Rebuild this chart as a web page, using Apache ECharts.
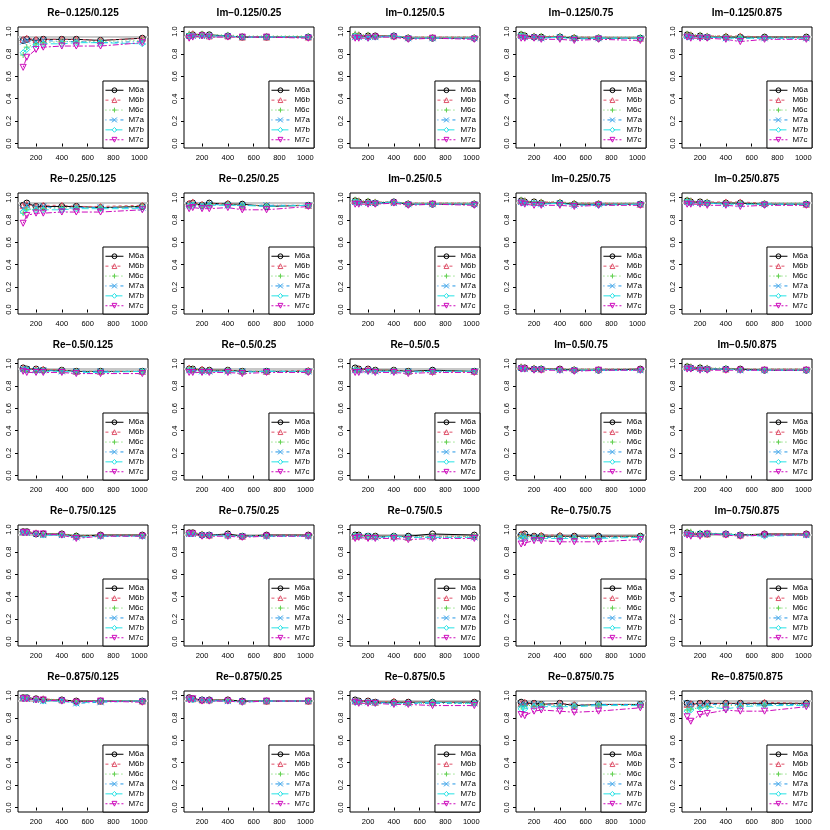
<!DOCTYPE html>
<html>
<head>
<meta charset="utf-8">
<script src="https://cdn.jsdelivr.net/npm/echarts@6/dist/echarts.min.js"></script>
<style>html,body{margin:0;padding:0;background:#fff}#c{width:830px;height:830px}</style>
</head>
<body>
<div id="c"></div>
<script>
const xVals = [100,128,200,256,400,512,700,1024];
const xTicks = [200,400,600,800,1000];
const yTicks = [0,0.2,0.4,0.6,0.8,1.0];
const refLevel = 0.95;
const seriesNames = ['M6a','M6b','M6c','M7a','M7b','M7c'];
const panelTitles = [
 'Re−0.125/0.125','Im−0.125/0.25','Im−0.125/0.5','Im−0.125/0.75','Im−0.125/0.875',
 'Re−0.25/0.125','Re−0.25/0.25','Im−0.25/0.5','Im−0.25/0.75','Im−0.25/0.875',
 'Re−0.5/0.125','Re−0.5/0.25','Re−0.5/0.5','Im−0.5/0.75','Im−0.5/0.875',
 'Re−0.75/0.125','Re−0.75/0.25','Re−0.75/0.5','Re−0.75/0.75','Im−0.75/0.875',
 'Re−0.875/0.125','Re−0.875/0.25','Re−0.875/0.5','Re−0.875/0.75','Re−0.875/0.875'
];
const m6a = [
 [.92,.93,.92,.93,.93,.93,.92,.94],[.96,.97,.97,.97,.96,.95,.95,.95],[.96,.96,.96,.96,.96,.94,.94,.94],[.97,.96,.95,.95,.95,.94,.94,.94],[.97,.96,.96,.95,.95,.95,.95,.95],
 [.93,.95,.92,.92,.92,.92,.91,.92],[.94,.95,.93,.95,.94,.94,.92,.93],[.97,.96,.96,.95,.96,.94,.94,.94],[.97,.96,.96,.95,.95,.94,.94,.94],[.97,.96,.96,.95,.95,.95,.94,.94],
 [.96,.95,.95,.94,.94,.93,.93,.93],[.95,.95,.94,.94,.94,.93,.93,.93],[.96,.95,.95,.94,.94,.93,.94,.93],[.96,.96,.95,.95,.95,.94,.94,.95],[.97,.96,.96,.95,.95,.95,.94,.94],
 [.98,.98,.96,.96,.96,.94,.95,.95],[.97,.97,.95,.95,.96,.94,.95,.95],[.95,.95,.94,.94,.94,.94,.96,.95],[.95,.96,.94,.94,.94,.94,.94,.94],[.97,.96,.96,.96,.96,.95,.96,.96],
 [.98,.98,.97,.96,.96,.95,.95,.95],[.98,.97,.96,.96,.96,.95,.95,.95],[.96,.95,.95,.94,.94,.94,.94,.94],[.94,.93,.93,.92,.93,.91,.92,.92],[.93,.92,.93,.93,.93,.93,.93,.93]
];
const m6b = [
 [.93,.94,.93,.93,.93,.93,.92,.94],[.97,.98,.97,.96,.96,.95,.95,.95],[.97,.97,.96,.96,.96,.95,.95,.95],[.97,.96,.96,.95,.96,.95,.95,.94],[.97,.97,.96,.96,.96,.96,.95,.95],
 [.93,.94,.92,.93,.93,.92,.92,.93],[.95,.96,.94,.94,.95,.93,.93,.93],[.97,.97,.96,.96,.96,.95,.95,.95],[.97,.97,.96,.96,.96,.95,.95,.94],[.97,.97,.96,.96,.96,.96,.95,.94],
 [.96,.95,.95,.95,.94,.93,.93,.93],[.96,.95,.95,.94,.94,.93,.93,.94],[.95,.95,.95,.94,.94,.93,.93,.93],[.97,.96,.96,.95,.95,.95,.95,.95],[.97,.97,.96,.96,.95,.95,.95,.95],
 [.98,.98,.97,.96,.96,.94,.95,.95],[.97,.97,.96,.95,.95,.94,.95,.95],[.94,.95,.94,.94,.94,.93,.94,.94],[.96,.95,.94,.95,.95,.94,.94,.94],[.97,.97,.96,.96,.96,.95,.96,.96],
 [.98,.98,.97,.97,.96,.95,.95,.95],[.98,.97,.96,.96,.96,.95,.95,.95],[.95,.95,.95,.94,.95,.94,.94,.94],[.93,.94,.93,.92,.93,.92,.92,.92],[.92,.93,.93,.93,.93,.93,.94,.93]
];
const m6c = [
 [.79,.86,.89,.90,.91,.91,.91,.92],[.98,.97,.98,.97,.97,.96,.96,.96],[.98,.97,.97,.96,.96,.95,.95,.95],[.98,.97,.96,.96,.96,.95,.95,.95],[.98,.97,.97,.96,.96,.95,.95,.95],
 [.86,.89,.90,.90,.91,.91,.91,.92],[.93,.94,.93,.94,.94,.93,.93,.93],[.98,.97,.97,.96,.96,.95,.95,.95],[.98,.97,.96,.96,.96,.95,.95,.95],[.98,.97,.96,.96,.95,.95,.95,.95],
 [.95,.95,.94,.94,.94,.93,.93,.93],[.95,.95,.94,.94,.94,.93,.93,.93],[.95,.94,.94,.94,.94,.93,.93,.93],[.97,.96,.96,.96,.95,.95,.95,.95],[.98,.97,.97,.96,.96,.95,.95,.95],
 [.97,.98,.96,.96,.96,.95,.95,.95],[.97,.97,.96,.95,.95,.94,.94,.95],[.95,.95,.94,.94,.94,.93,.94,.94],[.94,.94,.93,.94,.94,.93,.93,.94],[.98,.98,.97,.97,.96,.96,.95,.96],
 [.98,.98,.97,.97,.96,.95,.95,.95],[.97,.97,.96,.96,.96,.95,.95,.95],[.95,.95,.94,.94,.94,.93,.93,.93],[.90,.91,.91,.92,.91,.91,.92,.92],[.87,.88,.89,.90,.91,.91,.92,.92]
];
const m7a = [
 [.91,.92,.91,.92,.91,.91,.90,.91],[.96,.96,.96,.96,.96,.95,.95,.95],[.95,.95,.95,.95,.96,.94,.94,.94],[.96,.95,.95,.94,.95,.94,.94,.94],[.96,.95,.95,.95,.94,.94,.94,.94],
 [.90,.93,.91,.92,.90,.91,.91,.91],[.93,.94,.93,.94,.93,.93,.93,.93],[.96,.95,.95,.95,.95,.94,.94,.94],[.96,.95,.95,.94,.95,.93,.94,.94],[.96,.95,.95,.95,.94,.94,.94,.94],
 [.95,.95,.94,.94,.93,.93,.93,.93],[.94,.94,.93,.93,.93,.93,.93,.93],[.94,.94,.94,.93,.93,.93,.93,.93],[.96,.95,.95,.95,.94,.94,.94,.94],[.96,.96,.95,.95,.95,.94,.94,.94],
 [.98,.97,.96,.95,.95,.93,.94,.94],[.96,.96,.95,.95,.95,.94,.94,.94],[.94,.94,.94,.93,.93,.93,.93,.93],[.94,.94,.93,.93,.93,.93,.93,.93],[.96,.96,.96,.96,.96,.95,.95,.95],
 [.98,.97,.96,.95,.96,.93,.94,.95],[.97,.97,.96,.96,.95,.95,.95,.95],[.95,.94,.94,.94,.93,.93,.93,.93],[.92,.92,.92,.92,.91,.91,.92,.92],[.93,.92,.91,.92,.92,.92,.92,.92]
];
const m7b = [
 [.81,.84,.88,.89,.89,.90,.90,.89],[.96,.96,.96,.96,.96,.95,.95,.95],[.96,.95,.94,.95,.96,.94,.94,.94],[.96,.95,.95,.94,.95,.93,.94,.94],[.95,.95,.95,.95,.94,.94,.94,.94],
 [.87,.90,.89,.89,.89,.90,.90,.90],[.92,.93,.92,.93,.93,.93,.92,.93],[.96,.95,.95,.95,.96,.94,.94,.94],[.96,.95,.95,.94,.95,.93,.93,.94],[.96,.95,.95,.95,.94,.94,.94,.94],
 [.94,.94,.93,.93,.93,.92,.92,.93],[.94,.93,.93,.93,.93,.92,.93,.93],[.94,.93,.93,.93,.93,.92,.93,.93],[.96,.95,.95,.95,.94,.94,.94,.94],[.96,.96,.95,.95,.95,.94,.94,.94],
 [.97,.97,.96,.95,.95,.93,.94,.94],[.96,.96,.95,.95,.94,.94,.94,.94],[.94,.94,.94,.93,.94,.93,.93,.93],[.92,.92,.92,.92,.92,.92,.92,.93],[.96,.96,.96,.96,.96,.95,.94,.95],
 [.97,.98,.96,.95,.95,.93,.95,.95],[.97,.96,.96,.95,.95,.94,.95,.95],[.94,.94,.94,.93,.93,.93,.94,.93],[.88,.88,.90,.90,.90,.90,.91,.91],[.86,.87,.89,.90,.88,.90,.91,.91]
];
const m7c = [
 [.68,.77,.84,.86,.87,.87,.87,.90],[.94,.95,.96,.95,.95,.95,.95,.94],[.94,.94,.94,.95,.95,.93,.94,.93],[.94,.94,.94,.93,.93,.92,.93,.92],[.95,.94,.94,.94,.93,.91,.93,.93],
 [.77,.84,.86,.86,.87,.87,.87,.89],[.90,.91,.90,.90,.91,.89,.89,.92],[.94,.94,.94,.94,.95,.93,.94,.93],[.95,.94,.93,.93,.93,.92,.93,.93],[.94,.94,.94,.93,.93,.92,.93,.93],
 [.93,.92,.92,.92,.92,.91,.91,.91],[.92,.92,.92,.92,.92,.91,.92,.92],[.92,.92,.93,.92,.92,.91,.92,.92],[.95,.95,.94,.94,.94,.93,.94,.94],[.95,.95,.94,.94,.94,.94,.94,.94],
 [.97,.97,.96,.96,.95,.92,.94,.94],[.96,.96,.94,.94,.94,.93,.94,.94],[.92,.93,.92,.92,.92,.91,.92,.92],[.87,.88,.90,.90,.89,.89,.89,.91],[.95,.94,.94,.96,.95,.94,.95,.95],
 [.97,.97,.96,.96,.95,.94,.95,.94],[.96,.97,.95,.95,.95,.94,.95,.95],[.94,.93,.93,.93,.92,.92,.91,.91],[.83,.82,.86,.87,.86,.85,.86,.89],[.81,.77,.83,.84,.87,.86,.86,.90]
];

const allData = [m6a, m6b, m6c, m7a, m7b, m7c];
const colors = ['#000000','#DF536B','#61D04F','#2297E6','#28E2E5','#CD0BBC'];
const dashes = ['solid',[3,3],[1,3],[1,3,4,3],[7,3],[2,2,6,2]];
const symbols = ['circle','triangle','path://M5,0L5,10M0,5L10,5','path://M0,0L10,10M0,10L10,0','diamond','triangle'];
const rots = [0,0,0,0,0,180];
const FONT = 'Liberation Sans, Arial, Helvetica, sans-serif';

const P = 166, BL = 18, BT = 27, BW = 130, BH = 121;
const grids = [], xAxes = [], yAxes = [], series = [], legends = [], graphics = [];

for (let i = 0; i < 25; i++) {
  const r = Math.floor(i / 5), c = i % 5;
  const ox = c * P, oy = r * P;
  grids.push({left: ox + BL, top: oy + BT, width: BW, height: BH, show: true,
    borderColor: '#000', borderWidth: 1, backgroundColor: 'transparent'});
  xAxes.push({type: 'value', gridIndex: i, min: 60, max: 1068,
    axisLine: {show: false}, splitLine: {show: false},
    axisTick: {show: true, customValues: xTicks, length: 3, lineStyle: {color: '#000'}},
    axisLabel: {customValues: xTicks, color: '#000', fontSize: 7.5, fontFamily: FONT, margin: 6,
      formatter: v => String(v)}});
  yAxes.push({type: 'value', gridIndex: i, min: -0.04, max: 1.04,
    axisLine: {show: false}, splitLine: {show: false},
    axisTick: {show: true, customValues: yTicks, length: 3, lineStyle: {color: '#000'}},
    axisLabel: {customValues: yTicks, color: '#000', fontSize: 7.5, fontFamily: FONT, margin: 5, rotate: 90,
      formatter: v => v.toFixed(1)}});
  for (let s = 0; s < 6; s++) {
    const ser = {
      type: 'line', name: seriesNames[s], xAxisIndex: i, yAxisIndex: i,
      data: xVals.map((x, k) => [x, allData[s][i][k]]),
      symbol: symbols[s], symbolSize: 6, symbolRotate: rots[s], showSymbol: true,
      lineStyle: {color: colors[s], width: 1, type: dashes[s]},
      itemStyle: {color: 'rgba(255,255,255,0)', borderColor: colors[s], borderWidth: 1},
      emphasis: {disabled: true}, animation: false, silent: true, z: 3
    };
    if (s === 0) {
      ser.markLine = {silent: true, symbol: 'none', label: {show: false}, animation: false,
        lineStyle: {color: '#c8c8c8', width: 2, type: 'solid'}, z: 1,
        data: [{yAxis: refLevel}]};
    }
    series.push(ser);
  }
  legends.push({orient: 'vertical', right: 830 - (ox + BL + BW), bottom: 830 - (oy + BT + BH),
    data: seriesNames, backgroundColor: '#fff', borderColor: '#000', borderWidth: 1,
    padding: [5, 4, 4, 2], itemGap: 1.4, itemWidth: 18, itemHeight: 6, selectedMode: false,
    symbolRotate: 'inherit',
    lineStyle: {width: 1}, itemStyle: {borderWidth: 1},
    textStyle: {fontSize: 8, fontFamily: FONT, color: '#000', lineHeight: 8.5}});
  graphics.push({type: 'text', x: ox + BL + BW / 2, y: oy + 13,
    style: {text: panelTitles[i], font: 'bold 10px ' + FONT, fill: '#000',
      textAlign: 'center', textVerticalAlign: 'middle'}});
}

const chart = echarts.init(document.getElementById('c'), null, {renderer: 'canvas'});
chart.setOption({animation: false, backgroundColor: '#fff', grid: grids, xAxis: xAxes, yAxis: yAxes,
  series: series, legend: legends, graphic: graphics});
</script>
</body>
</html>
